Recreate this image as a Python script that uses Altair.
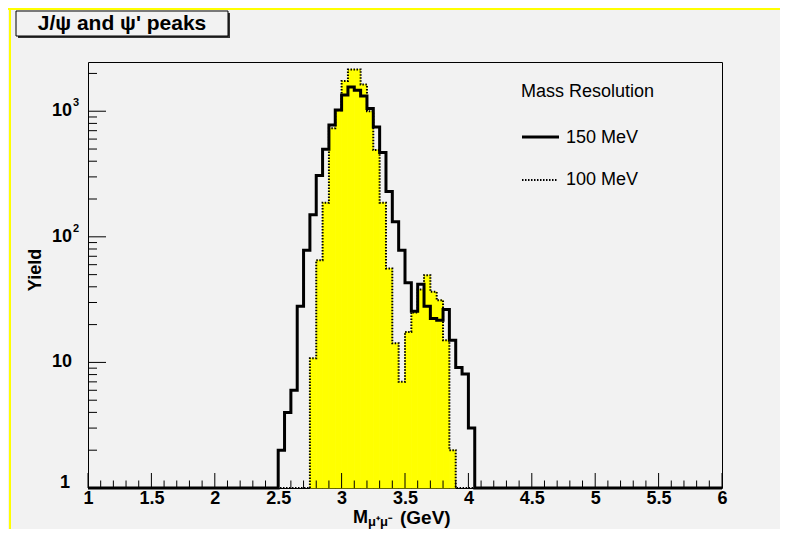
import altair as alt
import pandas as pd

# ---------------- data ----------------
BIN = 0.05
XMIN, XMAX = 1.0, 6.0
YMIN, YMAX = 1.0, 2466.0

# 150 MeV resolution histogram (solid black), bins of 0.05 GeV starting at 2.50
black_start = 2.50
black_vals = [2.0, 4.0, 6.0, 28, 78, 150, 308, 497, 778, 1024, 1346, 1560, 1470,
              1320, 1050, 750, 470, 230, 132, 78, 43, 25.5, 42, 28, 22.4, 21.7,
              26.4, 15, 9.1, 8.1, 3.0]

# 100 MeV resolution histogram (yellow fill, dotted outline), starting at 2.75
yellow_start = 2.75
yellow_vals = [10.8, 65, 187, 731, 1020, 1740, 2150, 2150, 1630, 1000, 491, 187,
               56, 14.2, 7.0, 17.5, 25, 38, 49.5, 36.5, 31.3, 15, 2.0]

x_major = [1.0, 1.5, 2.0, 2.5, 3.0, 3.5, 4.0, 4.5, 5.0, 5.5, 6.0]
x_minor = [round(1.0 + 0.1 * i, 1) for i in range(51) if i % 5 != 0]
y_major = [1, 10, 100, 1000]
y_minor = [m * 10 ** d for d in range(4) for m in range(2, 10) if m * 10 ** d <= YMAX]
y_label_base = ["1", "10", "10", "10"]
y_label_sup = ["", "", "2", "3"]

title_text = "J/\u03c8 and \u03c8' peaks"
legend_header = "Mass Resolution"
legend_labels = ["150 MeV", "100 MeV"]

# ---------------- layout ----------------
W, H = 634, 426
FONT = "Liberation Sans"
BG = "#f2f2f2"


def step_df(start, vals):
    xs = [round(start + i * BIN, 2) for i in range(len(vals))]
    end = round(start + len(vals) * BIN, 2)
    x = [XMIN] + xs + [end, XMAX]
    y = [YMIN] + list(vals) + [YMIN, YMIN]
    return pd.DataFrame({"x": x, "y": y, "o": list(range(len(x)))})


def bins_df(start, vals):
    lo = [round(start + i * BIN, 2) for i in range(len(vals))]
    hi = [round(v + BIN, 2) for v in lo]
    return pd.DataFrame({"x": lo, "x2": hi, "y": list(vals), "base": [YMIN] * len(vals)})


xscale = alt.Scale(domain=[XMIN, XMAX], nice=False, zero=False)
yscale = alt.Scale(type="log", domain=[YMIN, YMAX], nice=False)
xaxis = alt.Axis(values=x_major, labelExpr="toString(datum.value)", ticks=False,
                 domain=False, grid=False, title=None, labelFont=FONT,
                 labelFontSize=18, labelFontWeight="bold", labelColor="black",
                 labelPadding=1, labelFlush=False, labelOverlap=False)
X = alt.X("x:Q", scale=xscale, axis=xaxis)
Y = alt.Y("y:Q", scale=yscale, axis=None)

one = pd.DataFrame({"a": [0]})


def ptext(text, x, y, size, weight="normal", align="left", baseline="middle", angle=0, dy=0):
    return alt.Chart(one).mark_text(
        text=text, font=FONT, fontSize=size, fontWeight=weight, align=align,
        baseline=baseline, angle=angle, dy=dy, color="black"
    ).encode(x=alt.value(x), y=alt.value(y))


# canvas decorations
yellow_left = alt.Chart(one).mark_rule(color="#ffff00", strokeWidth=2).encode(
    x=alt.value(-78), y=alt.value(-54), y2=alt.value(467))
yellow_top = alt.Chart(one).mark_rule(color="#ffff00", strokeWidth=2).encode(
    y=alt.value(-53), x=alt.value(-80), x2=alt.value(692))

box_shadow = alt.Chart(one).mark_rect(fill="#333333").encode(
    x=alt.value(-70), x2=alt.value(142), y=alt.value(-49), y2=alt.value(-24))
box = alt.Chart(one).mark_rect(fill=BG, stroke="black", strokeWidth=1).encode(
    x=alt.value(-72), x2=alt.value(140), y=alt.value(-51), y2=alt.value(-26))
box_text = ptext(title_text, 34, -38.5, 21, weight="bold", align="center")

# histograms
yellow_fill = alt.Chart(bins_df(yellow_start, yellow_vals)).mark_rect(
    color="#ffff00", stroke="#ffff00", strokeWidth=0.8, opacity=1
).encode(x=X, x2="x2:Q", y=Y, y2="base:Q")

yellow_line = alt.Chart(step_df(yellow_start, yellow_vals)).mark_line(
    interpolate="step-after", color="black", strokeWidth=2, strokeDash=[1.5, 1.5]
).encode(x=X, y=Y, order="o:Q")

black_line = alt.Chart(step_df(black_start, black_vals)).mark_line(
    interpolate="step-after", color="black", strokeWidth=3, strokeJoin="miter"
).encode(x=X, y=Y, order="o:Q")

# ticks (ROOT style, inside the frame)
xt_major = alt.Chart(pd.DataFrame({"x": x_major})).mark_rule(color="black", strokeWidth=1).encode(
    x=X, y=alt.value(H), y2=alt.value(H - 15))
xt_minor = alt.Chart(pd.DataFrame({"x": x_minor})).mark_rule(color="black", strokeWidth=1).encode(
    x=X, y=alt.value(H), y2=alt.value(H - 7.5))
yt_major = alt.Chart(pd.DataFrame({"y": y_major})).mark_rule(color="black", strokeWidth=1).encode(
    y=Y, x=alt.value(0), x2=alt.value(18))
yt_minor = alt.Chart(pd.DataFrame({"y": y_minor})).mark_rule(color="black", strokeWidth=1).encode(
    y=Y, x=alt.value(0), x2=alt.value(9))

# y labels with superscripts
ylab_df = pd.DataFrame({"y": y_major, "base": y_label_base, "sup": y_label_sup})
ylab_mid = alt.Chart(ylab_df).transform_filter("datum.y > 1").mark_text(
    font=FONT, fontSize=18, fontWeight="bold", align="right", baseline="middle", color="black"
).encode(y=Y, x=alt.value(-16), text="base:N")
ylab_one = alt.Chart(ylab_df).transform_filter("datum.y == 1").mark_text(
    font=FONT, fontSize=18, fontWeight="bold", align="right", baseline="alphabetic",
    color="black", dy=-0.5
).encode(y=Y, x=alt.value(-18), text="base:N")
ylab_sup = alt.Chart(ylab_df).transform_filter("datum.sup != ''").mark_text(
    font=FONT, fontSize=11, fontWeight="bold", align="left", baseline="middle",
    color="black", dy=-8
).encode(y=Y, x=alt.value(-15), text="sup:N")

# axis titles
ytitle = ptext("Yield", -52.5, 208, 18, weight="bold", align="center", angle=270)
xt_M = ptext("M", 265, 456, 18, weight="bold")
xt_sub = ptext("\u03bc\u207a\u03bc\u207b", 280, 460, 13, weight="bold")
xt_gev = ptext("(GeV)", 312, 456, 19, weight="bold")

# legend
leg_head = ptext(legend_header, 433, 29.5, 18)
leg_l1 = alt.Chart(one).mark_rule(color="black", strokeWidth=3).encode(
    x=alt.value(434), x2=alt.value(471), y=alt.value(75))
leg_t1 = ptext(legend_labels[0], 478, 75.5, 18)
leg_l2 = alt.Chart(one).mark_rule(color="black", strokeWidth=2, strokeDash=[1.5, 1.5]).encode(
    x=alt.value(434), x2=alt.value(469), y=alt.value(118))
leg_t2 = ptext(legend_labels[1], 478, 117.5, 18)

chart = alt.layer(
    yellow_left, yellow_top, box_shadow, box, box_text,
    yellow_fill, yellow_line, black_line,
    xt_major, xt_minor, yt_major, yt_minor,
    ylab_mid, ylab_one, ylab_sup,
    ytitle, xt_M, xt_sub, xt_gev,
    leg_head, leg_l1, leg_t1, leg_l2, leg_t2,
).properties(
    width=W, height=H,
    padding={"left": 80, "top": 54, "right": 58, "bottom": 41},
    autosize=alt.AutoSizeParams(type="none"),
    background=BG,
).configure_view(stroke="black", strokeWidth=1, fill=BG)

chart.save("out.html", embed_options={"renderer": "svg", "actions": False})
